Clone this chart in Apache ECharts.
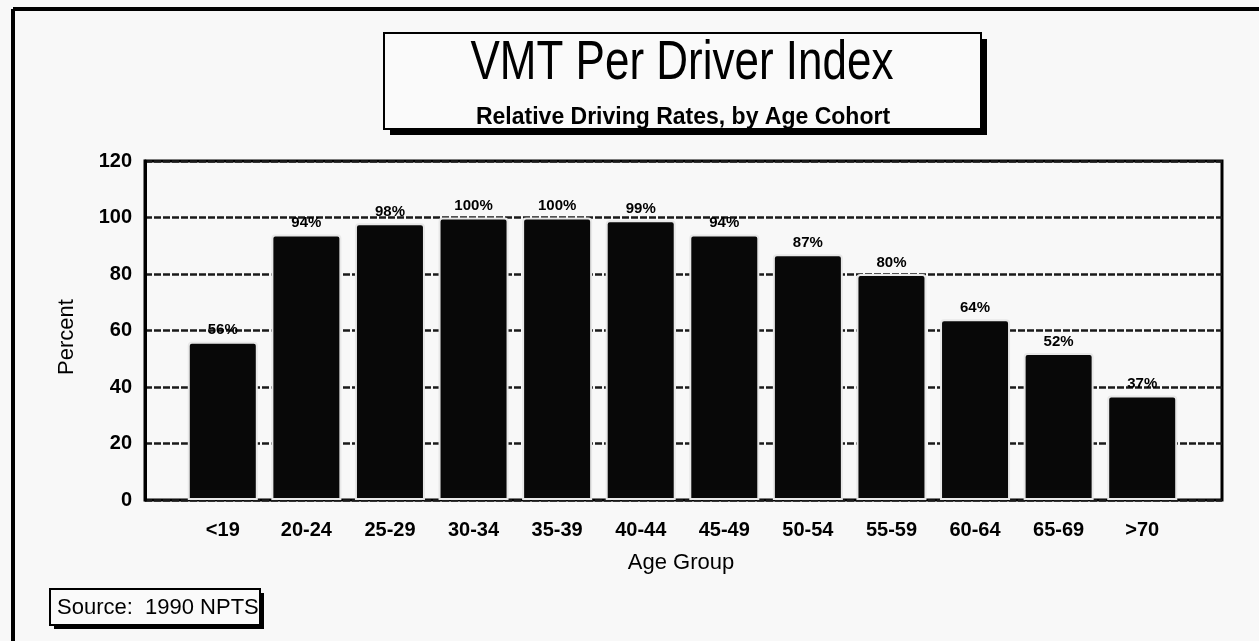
<!DOCTYPE html>
<html lang="en">
<head>
  <meta charset="UTF-8" />
  <title>VMT Per Driver Index</title>
  <style>
    * { padding: 0; margin: 0; }
    html, body { width: 100%; height: 100%; background: #f8f8f8; }
    #chart { width: 1259px; height: 641px; }
  </style>
</head>
<body>
  <div id="chart"></div>
  <script src="https://cdn.jsdelivr.net/npm/echarts@6/dist/echarts.min.js"></script>
  <script>
    var ageGroups = ['<19', '20-24', '25-29', '30-34', '35-39', '40-44', '45-49', '50-54', '55-59', '60-64', '65-69', '>70']
    var driveIndex = [56, 94, 98, 100, 100, 99, 94, 87, 80, 64, 52, 37]
    var yTicks = [0, 20, 40, 60, 80, 100, 120]

    var font = 'Arial, "Liberation Sans", sans-serif'

    var myChart = echarts.init(document.getElementById('chart'))

    // boxed text with a hard drop shadow, like the original print
    function shadowBox(x, y, w, h, off) {
      return [
        { type: 'rect', shape: { x: x + off, y: y + off, width: w, height: h }, style: { fill: '#000' }, z: 10 },
        { type: 'rect', shape: { x: x, y: y, width: w, height: h }, style: { fill: '#fafafa', stroke: '#000', lineWidth: 2 }, z: 11 }
      ]
    }

    var graphics = []
      .concat(shadowBox(384, 33, 597, 96, 6))
      .concat(shadowBox(50, 589, 210, 36, 4))
      .concat([
        // the print uses a condensed face, so squeeze it horizontally
        { type: 'text', x: 682, y: 64, scaleX: 0.8, z: 12, style: { text: 'VMT Per Driver Index', font: '55px ' + font, fill: '#000', textAlign: 'center', textVerticalAlign: 'middle' } },
        { type: 'text', x: 683, y: 118, z: 12, style: { text: 'Relative Driving Rates, by Age Cohort', font: 'bold 23px ' + font, fill: '#000', textAlign: 'center', textVerticalAlign: 'middle' } },
        { type: 'text', x: 57, y: 608, z: 12, style: { text: 'Source:  1990 NPTS', font: '22px ' + font, fill: '#000', textAlign: 'left', textVerticalAlign: 'middle' } },
        { type: 'text', x: 681, y: 563, style: { text: 'Age Group', font: '22px ' + font, fill: '#000', textAlign: 'center', textVerticalAlign: 'middle' } },
        { type: 'text', x: 67, y: 337, rotation: Math.PI / 2, style: { text: 'Percent', font: '22px ' + font, fill: '#000', textAlign: 'center', textVerticalAlign: 'middle' } },
        // page frame (left and top edges)
        { type: 'line', shape: { x1: 13, y1: 9, x2: 1259, y2: 9 }, style: { stroke: '#000', lineWidth: 4 } },
        { type: 'line', shape: { x1: 13, y1: 9, x2: 13, y2: 641 }, style: { stroke: '#000', lineWidth: 4 } }
      ])

    var option = {
      backgroundColor: '#f8f8f8',
      animation: false,
      grid: [
        { left: 145, right: 37, top: 161, bottom: 141, show: true, borderColor: '#000', borderWidth: 3 },
        { left: 181, right: 75, top: 161, bottom: 141 }
      ],
      xAxis: [
        { gridIndex: 0, type: 'value', min: 0, max: 1, show: false },
        {
          gridIndex: 1,
          type: 'category',
          data: ageGroups,
          axisLine: { show: false },
          axisTick: { show: false },
          axisLabel: { margin: 20, color: '#000', fontFamily: font, fontWeight: 'bold', fontSize: 20 }
        }
      ],
      yAxis: [
        {
          gridIndex: 0,
          type: 'value',
          min: 0,
          max: 120,
          interval: 20,
          axisLine: { show: true, lineStyle: { color: '#000', width: 3 } },
          axisTick: { show: false },
          axisLabel: { margin: 13, color: '#000', fontFamily: font, fontWeight: 'bold', fontSize: 20,
            formatter: function (v) { return yTicks.indexOf(v) >= 0 ? v : '' } },
          splitLine: { show: true, lineStyle: { color: '#1a1a1a', width: 2.5, type: [7, 2] } }
        },
        { gridIndex: 1, type: 'value', min: 0, max: 120, show: false }
      ],
      series: [
        {
          type: 'bar',
          xAxisIndex: 1,
          yAxisIndex: 1,
          data: driveIndex,
          barWidth: 70,
          itemStyle: { color: '#080808', borderColor: '#e8e8e8', borderWidth: 2, borderRadius: [3, 3, 0, 0] },
          label: {
            show: true,
            position: 'top',
            distance: 4,
            color: '#000',
            fontFamily: font,
            fontWeight: 'bold',
            fontSize: 15,
            formatter: '{c}%'
          }
        }
      ],
      graphic: graphics
    }
    myChart.setOption(option)
  </script>
</body>
</html>
